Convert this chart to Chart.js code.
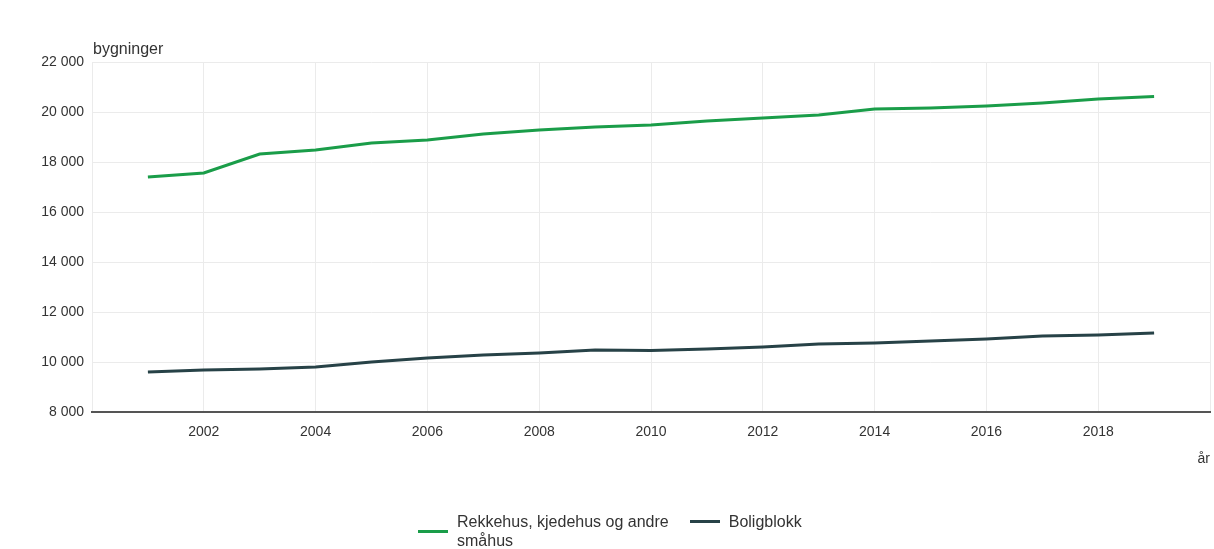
<!DOCTYPE html>
<html>
<head>
    <title>Bygninger</title>
    <meta charset="utf-8" />
    <script src="https://cdn.jsdelivr.net/npm/chart.js"></script>
    <style>
        body { margin: 0; background: #fff; font-family: Arial, "Liberation Sans", sans-serif; }
        #wrap { position: relative; width: 1214px; height: 549px; }
        #legend { position: absolute; top: 512px; left: 418px; display: flex; align-items: flex-start; font-size: 16px; color: #333; line-height: 19px; }
        .item { display: flex; align-items: center; margin-right: 21px; }
        .swatch { width: 30px; height: 3px; margin-right: 9px; }
    </style>
</head>
<body>
    <div id="wrap">
        <canvas id="chart" width="1214" height="549"></canvas>
        <div id="legend"></div>
    </div>
    <script>
        // data
        var years = [2001, 2002, 2003, 2004, 2005, 2006, 2007, 2008, 2009, 2010,
                     2011, 2012, 2013, 2014, 2015, 2016, 2017, 2018, 2019];
        var smahus = [17400, 17560, 18320, 18480, 18760, 18880, 19120, 19280, 19400, 19480,
                      19640, 19760, 19880, 20120, 20160, 20240, 20360, 20520, 20620];
        var boligblokk = [9600, 9680, 9720, 9800, 10000, 10160, 10280, 10360, 10480, 10460,
                          10520, 10600, 10720, 10760, 10840, 10920, 11040, 11080, 11160];
        var seriesNames = [['Rekkehus, kjedehus og andre', 'småhus'], ['Boligblokk']];
        var seriesColors = ['#1a9d49', '#274247'];

        Chart.defaults.font.family = 'Arial, "Liberation Sans", sans-serif';
        Chart.defaults.font.size = 14;
        Chart.defaults.color = '#333';

        function fmt(v) {
            return String(v).replace(/\B(?=(\d{3})+(?!\d))/g, ' ');
        }

        // "bygninger" over the y axis
        var unitLabel = {
            id: 'unitLabel',
            afterDraw: function(chart) {
                var ctx = chart.ctx;
                ctx.save();
                ctx.font = '16px Arial, "Liberation Sans", sans-serif';
                ctx.fillStyle = '#333';
                ctx.textBaseline = 'middle';
                ctx.fillText('bygninger', chart.chartArea.left + 1, chart.chartArea.top - 12);
                ctx.restore();
            }
        };

        var datasets = [smahus, boligblokk].map(function(vals, i) {
            return {
                label: seriesNames[i].join(' '),
                data: years.map(function(y, j) { return { x: y, y: vals[j] }; }),
                borderColor: seriesColors[i],
                backgroundColor: seriesColors[i],
                borderWidth: 3,
                pointRadius: 0,
                tension: 0
            };
        });

        new Chart(document.getElementById('chart'), {
            type: 'line',
            data: { datasets: datasets },
            options: {
                responsive: false,
                animation: false,
                layout: { padding: { top: 62, right: 4, bottom: 77, left: 0 } },
                plugins: { legend: { display: false }, tooltip: { enabled: false } },
                scales: {
                    x: {
                        type: 'linear',
                        min: 2000,
                        max: 2020,
                        afterFit: function(s) { s.height = 60; s.paddingLeft = 0; s.paddingRight = 0; },
                        grid: { color: '#ebebeb', drawTicks: false },
                        border: { color: '#555', width: 2 },
                        ticks: {
                            stepSize: 2,
                            padding: 12,
                            maxRotation: 0,
                            callback: function(v) { return (v === 2000 || v === 2020) ? '' : String(v); }
                        },
                        title: { display: true, text: 'år', align: 'end', padding: { top: 4, bottom: 4 } }
                    },
                    y: {
                        min: 8000,
                        max: 22000,
                        afterFit: function(s) { s.width = 92; },
                        grid: { color: '#ebebeb', drawTicks: false },
                        border: { display: false },
                        ticks: { stepSize: 2000, padding: 8, callback: function(v) { return fmt(v); } }
                    }
                }
            },
            plugins: [unitLabel]
        });

        // legend
        var legend = document.getElementById('legend');
        seriesNames.forEach(function(lines, i) {
            var item = document.createElement('div');
            item.className = 'item';
            var sw = document.createElement('span');
            sw.className = 'swatch';
            sw.style.background = seriesColors[i];
            var txt = document.createElement('span');
            txt.innerHTML = lines.join('<br>');
            item.appendChild(sw);
            item.appendChild(txt);
            legend.appendChild(item);
        });
    </script>
</body>
</html>
